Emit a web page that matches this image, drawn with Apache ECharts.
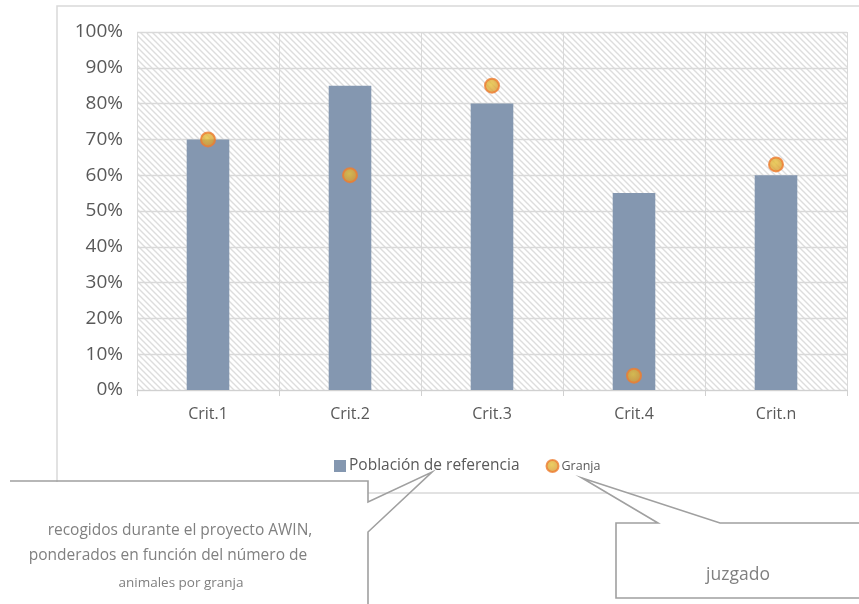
<!DOCTYPE html>
<html>
<head>
<meta charset="utf-8">
<script src="https://cdn.jsdelivr.net/npm/echarts@6/dist/echarts.min.js"></script>
<style>
  html, body { margin: 0; padding: 0; background: #fff; }
  #chart { width: 859px; height: 604px; }
</style>
</head>
<body>
<div id="chart"></div>
<script>
// Criteria and scores (percent)
const categories = ['Crit.1', 'Crit.2', 'Crit.3', 'Crit.4', 'Crit.n'];
const poblacion = [70, 85, 80, 55, 60];
const granja = [70, 60, 85, 4, 63];
const yTicks = { min: 0, max: 100, interval: 10 };

const FONT = '"Open Sans", "Noto Sans", sans-serif';
const TEXT = '#595959';

// Diagonal hatch used as the plot background
const T = 6;
const hatch = document.createElement('canvas');
hatch.width = T; hatch.height = T;
const hc = hatch.getContext('2d');
hc.fillStyle = '#ffffff';
hc.fillRect(0, 0, T, T);
hc.strokeStyle = '#dddddd';
hc.lineWidth = 1.4;
hc.beginPath();
hc.moveTo(-1, -1); hc.lineTo(T + 1, T + 1);
hc.moveTo(-2, T - 2); hc.lineTo(2, T + 2);
hc.moveTo(T - 2, -2); hc.lineTo(T + 2, 2);
hc.stroke();

const dotFill = {
  type: 'radial', x: 0.45, y: 0.4, r: 0.6,
  colorStops: [
    { offset: 0, color: '#e6c23a' },
    { offset: 0.7, color: '#dca234' },
    { offset: 1, color: '#e5862e' }
  ]
};

const chart = echarts.init(document.getElementById('chart'));
chart.setOption({
  animation: false,
  textStyle: { fontFamily: FONT },
  grid: {
    left: 137, right: 12, top: 32, bottom: 214,
    show: true,
    backgroundColor: { image: hatch, repeat: 'repeat' },
    borderWidth: 0
  },
  xAxis: {
    type: 'category',
    data: categories,
    boundaryGap: true,
    axisLine: { lineStyle: { color: '#d0d0d0', width: 1 } },
    axisTick: { show: true, length: 6, lineStyle: { color: '#d0d0d0' } },
    splitLine: { show: true, lineStyle: { color: '#d9d9d9', width: 1 } },
    axisLabel: { color: TEXT, fontSize: 16, margin: 16, fontFamily: FONT }
  },
  yAxis: {
    type: 'value',
    min: yTicks.min, max: yTicks.max, interval: yTicks.interval,
    axisLine: { show: false },
    axisTick: { show: false },
    splitLine: { lineStyle: { color: '#d9d9d9', width: 1.3 } },
    axisLabel: { color: TEXT, fontSize: 19, margin: 14, fontFamily: FONT, formatter: '{value}%' }
  },
  legend: {
    left: 329, top: 453,
    itemWidth: 12, itemHeight: 12, itemGap: 26,
    data: [
      { name: 'Población de referencia', icon: 'rect' },
      { name: 'Granja', icon: 'circle' }
    ],
    formatter: name => name === 'Granja' ? '{s|' + name + '}' : '{b|' + name + '}',
    textStyle: {
      color: TEXT, fontFamily: FONT, padding: [0, 0, 0, -2],
      rich: {
        b: { fontSize: 15.5, color: TEXT, fontFamily: FONT },
        s: { fontSize: 12.5, color: TEXT, fontFamily: FONT }
      }
    }
  },
  series: [
    {
      name: 'Población de referencia',
      type: 'bar',
      data: poblacion,
      barWidth: '30%',
      itemStyle: { color: '#8497b0' }
    },
    {
      name: 'Granja',
      type: 'scatter',
      data: granja,
      symbol: 'circle',
      symbolSize: 14,
      z: 5,
      itemStyle: { color: dotFill, borderColor: '#ed7d31', borderWidth: 2 }
    }
  ],
  graphic: [
    // outer chart frame
    {
      type: 'rect', z: 0, silent: true,
      shape: { x: 57, y: 6, width: 830, height: 487 },
      style: { fill: 'none', stroke: '#d9d9d9', lineWidth: 1.5 }
    },
    // left callout box
    {
      type: 'rect', z: 10, silent: true,
      shape: { x: 10, y: 482, width: 358, height: 130 },
      style: { fill: '#ffffff', stroke: 'none' }
    },
    {
      type: 'polyline', z: 11, silent: true,
      shape: { points: [[10, 481], [368, 481], [368, 502], [432, 472], [368, 532], [368, 610]] },
      style: { fill: 'none', stroke: '#a0a0a0', lineWidth: 1.6 }
    },
    {
      type: 'text', z: 12, silent: true,
      style: { x: 180, y: 531, text: 'recogidos durante el proyecto AWIN,', align: 'center', verticalAlign: 'middle', fill: '#808080', font: '15.5px ' + FONT }
    },
    {
      type: 'text', z: 12, silent: true,
      style: { x: 168, y: 556, text: 'ponderados en función del número de', align: 'center', verticalAlign: 'middle', fill: '#808080', font: '15.5px ' + FONT }
    },
    {
      type: 'text', z: 12, silent: true,
      style: { x: 181, y: 583, text: 'animales por granja', align: 'center', verticalAlign: 'middle', fill: '#808080', font: '13.5px ' + FONT }
    },
    // right callout box
    {
      type: 'polygon', z: 10, silent: true,
      shape: { points: [[616, 523], [658, 523], [582, 478], [720, 523], [880, 523], [880, 598], [616, 598]] },
      style: { fill: '#ffffff', stroke: '#a0a0a0', lineWidth: 1.6 }
    },
    {
      type: 'text', z: 12, silent: true,
      style: { x: 738, y: 575, text: 'juzgado', align: 'center', verticalAlign: 'middle', fill: '#808080', font: '17.5px ' + FONT }
    }
  ]
});
</script>
</body>
</html>
